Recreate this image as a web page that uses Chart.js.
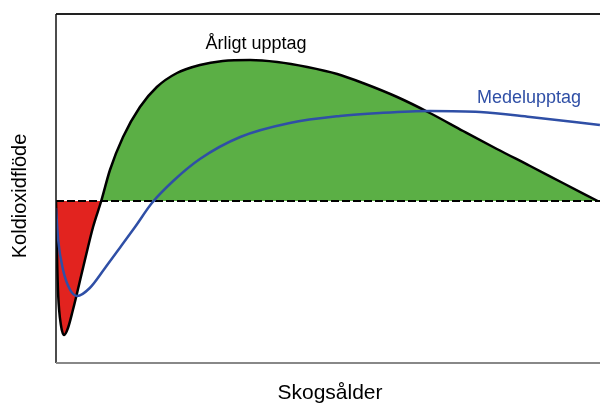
<!DOCTYPE html>
<html>
<head>
<meta charset="utf-8">
<script src="https://cdn.jsdelivr.net/npm/chart.js@4"></script>
<style>
  html, body { margin: 0; padding: 0; background: #fff; }
  #wrap { width: 600px; height: 408px; overflow: hidden; position: relative; }
  #wrap canvas { position: absolute; left: 0; top: 0; }
</style>
</head>
<body>
<div id="wrap"><canvas id="chart" width="610" height="408"></canvas></div>
<script>
// skogsålder (relativ skala 0-100) och flöden (relativa enheter)
const arligtAlder = [0, 0.2, 0.4, 0.9, 1.5, 2.2, 3.1, 5.0, 6.8, 8.3, 9.9, 12.3, 15.4, 18.5, 22.2, 26.4, 30.6, 35.6, 40.6, 46.1, 51.6, 56.3, 62.6, 68.6, 74.7, 80.9, 87.0, 93.0, 99.4];
const arligtFlode = [0, -59, -94, -124, -134, -127, -109, -66, -26, 0, 31, 64, 94, 114, 128, 136, 140, 141, 139, 134, 127, 118, 104, 88, 70, 52, 35, 18, 0];

const medelAlder = [0, 0.4, 1.3, 2.6, 3.9, 6.2, 9.0, 11.7, 14.5, 17.6, 21.5, 26.4, 33.8, 42.9, 52.1, 59.4, 68.6, 77.8, 87.0, 99.8];
const medelFlode = [-7, -39, -69, -89, -95, -87, -67, -47, -26, -2, 20, 42, 64, 78, 85, 88, 90, 89, 84, 76];

const nollAlder = [0, 100];
const nollFlode = [0, 0];

const toPts = (xs, ys) => xs.map((x, i) => ({ x, y: ys[i] }));

// ram och texter runt diagrammet
const ramPlugin = {
  id: 'ram',
  afterDraw(chart) {
    const { ctx, chartArea: a } = chart;
    ctx.save();
    ctx.lineWidth = 2;
    ctx.strokeStyle = '#222';
    ctx.beginPath();
    ctx.moveTo(a.left, a.top);
    ctx.lineTo(a.right + 20, a.top);
    ctx.stroke();
    ctx.lineWidth = 1.5;
    ctx.strokeStyle = '#111';
    ctx.beginPath();
    ctx.moveTo(a.left, a.top);
    ctx.lineTo(a.left, a.bottom);
    ctx.stroke();
    ctx.lineWidth = 2;
    ctx.strokeStyle = '#888';
    ctx.beginPath();
    ctx.moveTo(a.left, a.bottom);
    ctx.lineTo(a.right + 20, a.bottom);
    ctx.stroke();

    ctx.font = '18px "Liberation Sans", Arial, sans-serif';
    ctx.textAlign = 'center';
    ctx.textBaseline = 'middle';
    ctx.fillStyle = '#000';
    ctx.fillText('Årligt upptag', 256, 44);
    ctx.fillStyle = '#2F4FA6';
    ctx.fillText('Medelupptag', 529, 98);

    ctx.font = '21px "Liberation Sans", Arial, sans-serif';
    ctx.fillStyle = '#000';
    ctx.fillText('Skogsålder', 330, 393);
    ctx.font = '20px "Liberation Sans", Arial, sans-serif';
    ctx.translate(20, 196);
    ctx.rotate(-Math.PI / 2);
    ctx.fillText('Koldioxidflöde', 0, 0);
    ctx.restore();
  }
};

new Chart(document.getElementById('chart').getContext('2d'), {
  type: 'line',
  data: {
    datasets: [
      {
        label: 'Årligt upptag',
        data: toPts(arligtAlder, arligtFlode),
        borderColor: '#000',
        borderWidth: 2.5,
        pointRadius: 0,
        cubicInterpolationMode: 'monotone',
        fill: { target: { value: 0 }, above: '#5BAF45', below: '#E2231F' },
        order: 3
      },
      {
        label: 'Noll',
        data: toPts(nollAlder, nollFlode),
        borderColor: '#000',
        borderWidth: 2,
        borderDash: [8, 3],
        pointRadius: 0,
        fill: false,
        order: 2
      },
      {
        label: 'Medelupptag',
        data: toPts(medelAlder, medelFlode),
        borderColor: '#2F4FA6',
        borderWidth: 2.5,
        pointRadius: 0,
        cubicInterpolationMode: 'monotone',
        fill: false,
        order: 1
      }
    ]
  },
  options: {
    responsive: false,
    animation: false,
    layout: { padding: { left: 56, top: 14, right: 9, bottom: 45 } },
    plugins: { legend: { display: false }, tooltip: { enabled: false } },
    scales: {
      x: { type: 'linear', min: 0, max: 100, display: false },
      y: { type: 'linear', min: -162, max: 187, display: false }
    }
  },
  plugins: [ramPlugin]
});
</script>
</body>
</html>
